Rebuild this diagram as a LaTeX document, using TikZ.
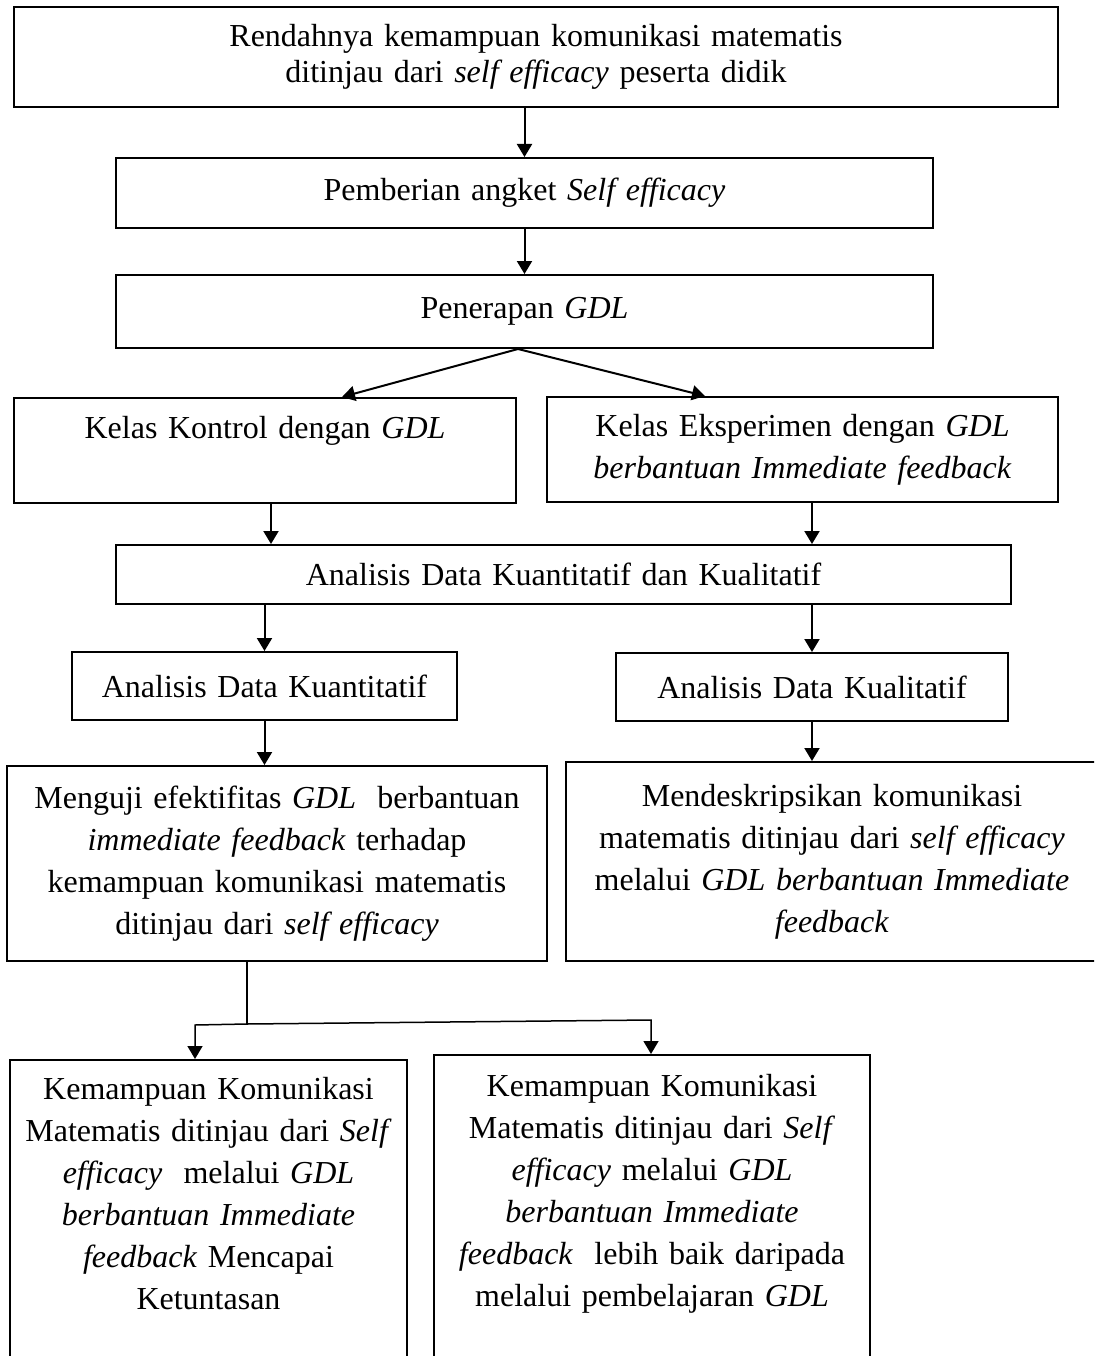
\documentclass[tikz,border=0pt]{standalone}
\usepackage{fontspec}
\setmainfont{Liberation Serif}
\usetikzlibrary{arrows.meta}

\begin{document}
\begin{tikzpicture}[x=1pt,y=-1pt,font=\fontsize{32}{42}\selectfont,
        kotak/.style={draw,rectangle,line width=2pt,inner sep=0pt,align=center},
        panah/.style={-{Triangle[length=13pt,width=15pt]},line width=2pt}]
        \useasboundingbox (0,0) rectangle (1094,1356);
        \clip (0,0) rectangle (1094,1356);
        \node[kotak,text width=1044pt,minimum height=100pt,font=\fontsize{32}{36}\selectfont] (rendah) at (536,57) {Rendahnya kemampuan komunikasi matematis\\ ditinjau dari \textit{self efficacy} peserta didik};
        \node[kotak,text width=817pt,minimum height=70pt] (angket) at (524.5,193) {Pemberian angket \textit{Self efficacy}};
        \node[kotak,text width=817pt,minimum height=73pt] (terap) at (524.5,311.5) {Penerapan \textit{GDL}};
        \node[kotak,anchor=north,text width=502pt,inner ysep=18pt,text height=22pt,text depth=47pt] (kontrol) at (265,397) {Kelas Kontrol dengan \textit{GDL}};
        \node[kotak,text width=511pt,minimum height=105pt] (eksp) at (802.5,449.5) {Kelas Eksperimen dengan \textit{GDL}\\ \textit{berbantuan Immediate feedback}};
        \node[kotak,text width=895pt,minimum height=59pt] (analisis) at (563.5,574.5) {Analisis Data Kuantitatif dan Kualitatif};
        \node[kotak,text width=385pt,minimum height=68pt] (kuan) at (264.5,686) {Analisis Data Kuantitatif};
        \node[kotak,text width=392pt,minimum height=68pt] (kual) at (812,687) {Analisis Data Kualitatif};
        \node[kotak,text width=540pt,minimum height=195pt] (uji) at (277,863.5) {Menguji efektifitas \textit{GDL}\ \ berbantuan\\ \textit{immediate feedback} terhadap\\ kemampuan komunikasi matematis\\ ditinjau dari \textit{self efficacy}};
        \node[kotak,text width=532pt,minimum height=199pt] (deskr) at (832,861.5) {Mendeskripsikan komunikasi\\ matematis ditinjau dari \textit{self efficacy}\\ melalui \textit{GDL berbantuan Immediate}\\ \textit{feedback}};
        \node[kotak,anchor=north,text width=397pt,inner ysep=17pt,text height=22pt,text depth=285pt] (tuntas) at (208.5,1059) {Kemampuan Komunikasi\\ Matematis ditinjau dari \textit{Self}\\ \textit{efficacy}\ \ melalui \textit{GDL}\\ \textit{berbantuan Immediate}\\ \textit{feedback} Mencapai\\ Ketuntasan};
        \node[kotak,anchor=north,text width=436pt,inner ysep=19pt,text height=22pt,text depth=300pt] (baik) at (652,1054) {Kemampuan Komunikasi\\ Matematis ditinjau dari \textit{Self}\\ \textit{efficacy} melalui \textit{GDL}\\ \textit{berbantuan Immediate}\\ \textit{feedback}\ \ lebih baik daripada\\ melalui pembelajaran \textit{GDL}};
        \coordinate (kk) at ([xshift=6pt]kontrol.south);
        \coordinate (ke) at ([xshift=9.5pt]eksp.south);
        \coordinate (cabang) at (247,1024);
        \coordinate (kiri) at (195,1025);
        \coordinate (kanan) at (651,1020);
        \draw[panah] (angket.north |- rendah.south) -- (angket.north);
        \draw[panah] (angket.south) -- (terap.north);
        \draw[panah] ([xshift=-6.5pt]terap.south) -- ([xshift=77pt]kontrol.north);
        \draw[panah] ([xshift=-6.5pt]terap.south) -- ([xshift=-97.5pt]eksp.north);
        \draw[panah] (kk) -- (kk |- analisis.north);
        \draw[panah] (ke) -- (ke |- analisis.north);
        \draw[panah] (kuan.north |- analisis.south) -- (kuan.north);
        \draw[panah] (kual.north |- analisis.south) -- (kual.north);
        \draw[panah] (kuan.south) -- (kuan.south |- uji.north);
        \draw[panah] (kual.south) -- (kual.south |- deskr.north);
        \draw[line width=1.5pt] ([xshift=-30pt]uji.south) -- (cabang);
        \draw[panah,line width=1.5pt] (cabang) -- (kiri) -- (kiri |- tuntas.north);
        \draw[panah,line width=1.5pt] (cabang) -- (kanan) -- (kanan |- baik.north);
    \end{tikzpicture}
\end{document}
